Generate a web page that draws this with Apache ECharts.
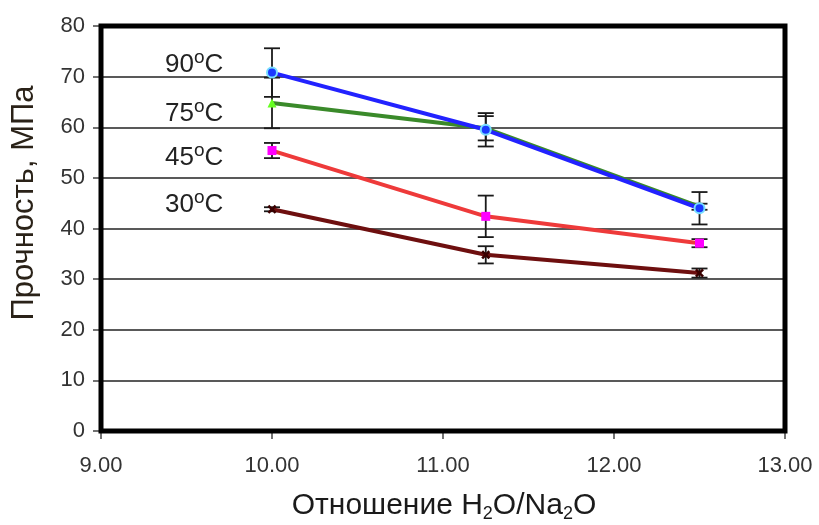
<!DOCTYPE html>
<html><head><meta charset="utf-8">
<script src="https://cdn.jsdelivr.net/npm/echarts@6/dist/echarts.min.js"></script>
<style>html,body{margin:0;padding:0;background:#fff}#c{width:819px;height:525px}</style>
</head><body><div id="c"></div>
<script>
// ---- data ----
const xValues = [10.00, 11.25, 12.50];
const temps = ['90', '75', '45', '30'];
const s90 = [70.8, 59.5, 44.0];
const e90 = [4.8, 3.3, 3.2];
const s75 = [64.8, 59.8, 44.3];
const e75 = [5.0, 2.4, 0.6];
const s45 = [55.4, 42.4, 37.1];
const e45 = [1.5, 4.1, 0.8];
const s30 = [43.8, 34.8, 31.2];
const e30 = [0.4, 1.7, 0.9];
const yTicks = [0, 10, 20, 30, 40, 50, 60, 70, 80];
const xTicks = [9, 10, 11, 12, 13];

const FONT = '"Liberation Sans", Arial, sans-serif';
const chart = echarts.init(document.getElementById('c'), null, {renderer: 'canvas'});
const xMin = xTicks[0], xMax = xTicks[xTicks.length - 1];
const yMin = yTicks[0], yMax = yTicks[yTicks.length - 1];

function pts(vals) { return xValues.map((x, i) => [x, vals[i]]); }
function errData(vals, errs) { return xValues.map((x, i) => [x, vals[i], errs[i]]); }
function errRender(params, api) {
  const x = api.value(0), y = api.value(1), e = api.value(2);
  const t = api.coord([x, y + e]), b = api.coord([x, y - e]);
  const hw = 8;
  const st = {stroke: '#1a1a1a', lineWidth: 1.8};
  return {type: 'group', children: [
    {type: 'line', shape: {x1: t[0], y1: t[1], x2: b[0], y2: b[1]}, style: st},
    {type: 'line', shape: {x1: t[0] - hw, y1: t[1], x2: t[0] + hw, y2: t[1]}, style: st},
    {type: 'line', shape: {x1: b[0] - hw, y1: b[1], x2: b[0] + hw, y2: b[1]}, style: st}
  ]};
}
function errSeries(vals, errs) {
  return {type: 'custom', renderItem: errRender, data: errData(vals, errs), z: 1, silent: true};
}
function frameRender(params, api) {
  const p0 = api.coord([api.value(0), api.value(1)]);
  const p1 = api.coord([api.value(2), api.value(3)]);
  return {type: 'rect', shape: {x: p0[0], y: p1[1], width: p1[0] - p0[0], height: p0[1] - p1[1]},
          style: {fill: 'none', stroke: '#000', lineWidth: 5}};
}
function lineSeries(vals, color, symbol, symSize, mColor, mBorder, z) {
  return {
    type: 'line', data: pts(vals), z: z,
    lineStyle: {color: color, width: 4},
    symbol: symbol, symbolSize: symSize,
    itemStyle: {color: mColor, borderColor: mBorder, borderWidth: mBorder ? 2 : 0},
    showSymbol: true, animation: false
  };
}
const starPath = 'path://M0,2 L2,0 L5,3 L8,0 L10,2 L7,5 L10,8 L8,10 L5,7 L2,10 L0,8 L3,5 Z';

const labelY = [64, 113, 157, 204];
const graphics = temps.map((t, i) => ({
  type: 'text', left: 165, top: labelY[i] - 16,
  style: {
    text: '{n|' + t + '}{s|o}{n|C}',
    rich: {
      n: {fontSize: 26, fontFamily: FONT, fill: '#222', lineHeight: 30, verticalAlign: 'bottom'},
      s: {fontSize: 19, fontFamily: FONT, fill: '#222', lineHeight: 30, verticalAlign: 'top'}
    }
  }
}));
graphics.push({
  type: 'text', x: 24, y: 203, rotation: Math.PI / 2,
  style: {text: 'Прочность, МПа', fontSize: 31, fontFamily: FONT, fill: '#2a2218',
          textAlign: 'center', textVerticalAlign: 'middle'}
});
graphics.push({
  type: 'text', x: 444, y: 507,
  style: {
    text: '{n|Отношение H}{s|2}{n|O/Na}{s|2}{n|O}',
    textAlign: 'center', textVerticalAlign: 'middle',
    rich: {
      n: {fontSize: 30, fontFamily: FONT, fill: '#1a1a1a', lineHeight: 32, verticalAlign: 'top'},
      s: {fontSize: 18, fontFamily: FONT, fill: '#1a1a1a', lineHeight: 32, verticalAlign: 'bottom'}
    }
  }
});

chart.setOption({
  backgroundColor: '#ffffff',
  animation: false,
  grid: {left: 101, right: 34, top: 26, bottom: 94, show: false},
  xAxis: [{
    type: 'value', min: xMin, max: xMax, interval: 1, position: 'bottom',
    axisLine: {show: false},
    axisTick: {show: true, length: 8, lineStyle: {color: '#444', width: 1.5}},
    axisLabel: {margin: 24, fontSize: 22, fontFamily: FONT, color: '#333', formatter: v => v.toFixed(2)},
    splitLine: {show: false}
  }],
  yAxis: [{
    type: 'value', min: yMin, max: yMax, interval: 10, position: 'left',
    axisLine: {show: false},
    axisTick: {show: true, length: 8, lineStyle: {color: '#444', width: 1.5}},
    axisLabel: {margin: 16, fontSize: 22, fontFamily: FONT, color: '#333'},
    splitLine: {show: true, lineStyle: {color: '#222', width: 1.5}}
  }],
  graphic: graphics,
  series: [
    errSeries(s90, e90), errSeries(s75, e75), errSeries(s45, e45), errSeries(s30, e30),
    lineSeries(s30, '#6e0f0f', starPath, 9, '#3a0000', null, 2),
    lineSeries(s45, '#ee3a3a', 'rect', 9, '#ff00ff', null, 3),
    lineSeries(s75, '#3a8a2a', 'triangle', 9, '#66ff22', null, 4),
    lineSeries(s90, '#2222ff', 'circle', 10, '#1a3aff', '#77ddff', 5),
    {type: 'custom', renderItem: frameRender, data: [[xMin, yMin, xMax, yMax]], z: 100, clip: false, silent: true}
  ]
});
</script></body></html>
